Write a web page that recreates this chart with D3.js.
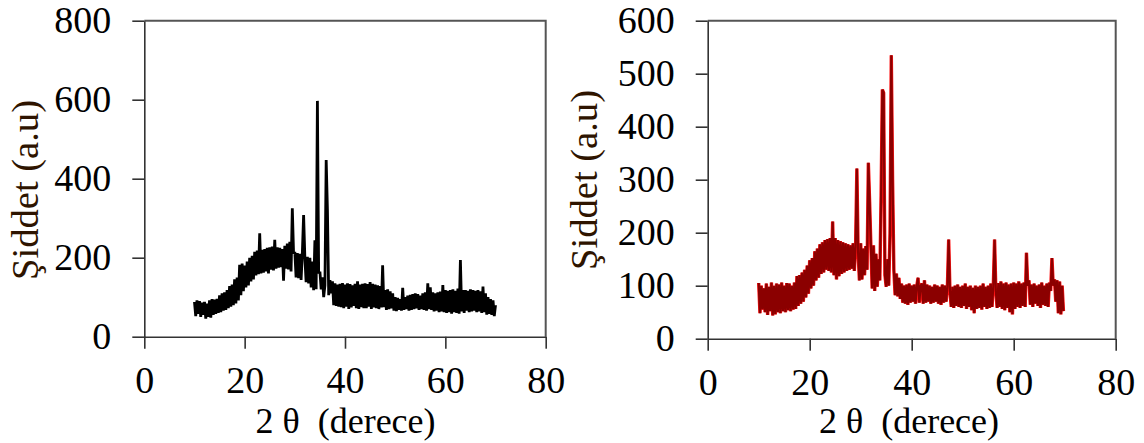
<!DOCTYPE html>
<html>
<head>
<meta charset="utf-8">
<script src="https://cdn.jsdelivr.net/npm/d3@7"></script>
<style>
  body { margin: 0; background: #fff; }
  svg { display: block; }
</style>
</head>
<body>
<div id="app"></div>
<script>
// XRD scans, 10-70 deg, step 0.25 deg
const twoThetaStart = 10
const twoThetaStep = 0.25

const intensityBlack = [
  88, 52, 92, 58,   90, 50, 86, 55,   88, 46, 84, 50,   92, 48, 95, 55,
  94, 58, 96, 60,   105, 62, 110, 66, 112, 68, 118, 72, 128, 76, 132, 80,
  145, 84, 150, 92, 182, 105, 185, 115, 180, 125, 190, 130, 200, 140, 205, 145,
  215, 155, 218, 158, 262, 160, 220, 162, 222, 165, 225, 160, 226, 170, 228, 168,
  245, 172, 226, 175, 225, 176, 222, 142, 230, 172, 236, 170, 240, 165, 325, 210,
  215, 150, 212, 148, 210, 144, 212, 308, 200, 138, 202, 135, 200, 125, 190, 118,
  244, 120, 597, 160, 165, 120, 150, 100, 130, 447, 320, 105, 143, 110, 140, 80,
  135, 78, 132, 76, 134, 75, 136, 72, 132, 76, 135, 70, 133, 74, 130, 78,
  134, 72, 140, 70, 132, 75, 134, 72, 135, 72, 133, 76, 138, 70, 134, 74,
  132, 72, 130, 70, 128, 74, 181, 75, 118, 68, 120, 70, 115, 72, 110, 66,
  100, 65, 98, 68,  95, 66, 124, 68,  100, 70, 104, 66, 106, 68, 108, 70,
  110, 72, 108, 68, 104, 70, 110, 68, 112, 66, 135, 70, 125, 68, 112, 64,
  110, 66, 112, 62, 114, 64, 131, 62, 118, 60, 116, 62, 118, 58, 120, 62,
  116, 60, 122, 58, 194, 64, 118, 60, 118, 66, 116, 62, 120, 64, 118, 66,
  116, 62, 118, 64, 115, 60, 127, 62, 110, 56, 100, 58, 95, 55, 92, 52,
  80
]

const intensityRed = [
  105, 48, 100, 55, 95, 50, 104, 45,  98, 52, 106, 44,  100, 46, 104, 50,
  102, 48, 106, 52, 100, 50, 105, 54, 104, 52, 100, 55, 106, 56, 118, 62,
  120, 66, 125, 70, 130, 78, 138, 85, 148, 95, 152, 100, 165, 110, 170, 115,
  178, 122, 182, 125, 186, 130, 188, 128, 190, 125, 221, 120, 190, 112, 186, 118,
  184, 122, 182, 125, 180, 128, 178, 130, 176, 132, 180, 128, 175, 321, 160, 110,
  180, 112, 170, 120, 175, 130, 332, 258, 174, 95, 176, 90, 160, 98, 150, 110,
  270, 470, 464, 120, 98, 150, 100, 199, 535, 300, 130, 82, 123, 80, 115, 75,
  104, 68, 100, 66, 102, 64, 104, 68, 100, 70, 102, 66, 100, 115, 68, 100,
  104, 66, 110, 68, 102, 70, 100, 66, 98, 68, 102, 70,  100, 66, 98, 64,
  102, 68, 100, 70, 98, 187, 90, 60,  98, 58, 100, 62,  102, 60, 98, 58,
  100, 62, 104, 56, 98, 60, 100, 54,  96, 48, 100, 56,  98, 58, 100, 55,
  104, 60, 98, 56,  100, 58, 104, 60, 98, 187, 90, 58,  105, 60, 108, 56,
  104, 54, 106, 58, 102, 50, 104, 46, 106, 56, 104, 60, 108, 58, 104, 62,
  106, 60, 162, 100, 110, 64, 102, 60, 104, 66, 100, 62, 102, 58, 106, 64,
  100, 62, 104, 60, 106, 90, 152, 100, 112, 70, 110, 48, 108, 46, 100, 52
]

const xTicks = [0, 20, 40, 60, 80]
const yTicksBlack = [0, 200, 400, 600, 800]
const yTicksRed = [0, 100, 200, 300, 400, 500, 600]
const xLabel = '2 θ  (derece)'
const yLabel = 'Şiddet (a.u)'

const font = '"Liberation Serif", "Times New Roman", serif'

const svg = d3.select('#app').append('svg').attr('width', 1144).attr('height', 443)

function panel(opt) {
  const x = d3.scaleLinear().domain([0, 80]).range(opt.xr)
  const y = d3.scaleLinear().domain([0, opt.ymax]).range(opt.yr)
  const g = svg.append('g')

  const pts = opt.values.map((v, i) => [twoThetaStart + i * twoThetaStep, v])
  const line = d3.line().x(d => x(d[0])).y(d => y(d[1]))

  opt.strokes.forEach(s => {
    g.append('path').datum(pts)
      .attr('d', line)
      .attr('fill', 'none')
      .attr('stroke', s[0])
      .attr('stroke-width', s[1])
      .attr('stroke-linejoin', 'bevel')
  })

  // frame top & right
  g.append('path')
    .attr('d', `M${x(0)},${y(opt.ymax)}H${x(80)}V${y(0)}`)
    .attr('fill', 'none').attr('stroke', '#555').attr('stroke-width', 2)

  const gx = g.append('g')
    .attr('transform', `translate(0,${y(0)})`)
    .call(d3.axisBottom(x).tickValues(xTicks).tickSize(12).tickSizeOuter(0).tickPadding(17))
  const gy = g.append('g')
    .attr('transform', `translate(${x(0)},0)`)
    .call(d3.axisLeft(y).tickValues(opt.yticks).tickSize(12).tickSizeOuter(0).tickPadding(21))

  ;[gx, gy].forEach(a => {
    a.attr('font-family', font).attr('font-size', 38)
    a.selectAll('path, line').attr('stroke', '#333').attr('stroke-width', 1.6)
    a.selectAll('text').attr('fill', '#000')
  })

  g.append('text')
    .attr('x', opt.xlab[0]).attr('y', opt.xlab[1])
    .attr('text-anchor', 'middle')
    .attr('font-family', font).attr('font-size', 36)
    .style('white-space', 'pre')
    .text(xLabel)

  g.append('text')
    .attr('transform', `translate(${opt.ylab[0]},${opt.ylab[1]}) rotate(-90)`)
    .attr('text-anchor', 'middle')
    .attr('font-family', font).attr('font-size', 37)
    .attr('fill', '#2e1400')
    .attr('textLength', 180).attr('lengthAdjust', 'spacingAndGlyphs')
    .text(yLabel)
}

panel({
  xr: [144.3, 545.7], yr: [336.7, 20.7], ymax: 800,
  yticks: yTicksBlack, values: intensityBlack,
  strokes: [['#000', 2.8]],
  xlab: [345.5, 433], ylab: [38, 190]
})

panel({
  xr: [707.7, 1115.7], yr: [338.7, 20.7], ymax: 600,
  yticks: yTicksRed, values: intensityRed,
  strokes: [['#ff1414', 3.4], ['#8b0000', 2.2]],
  xlab: [909, 433], ylab: [597, 180]
})
</script>
</body>
</html>
